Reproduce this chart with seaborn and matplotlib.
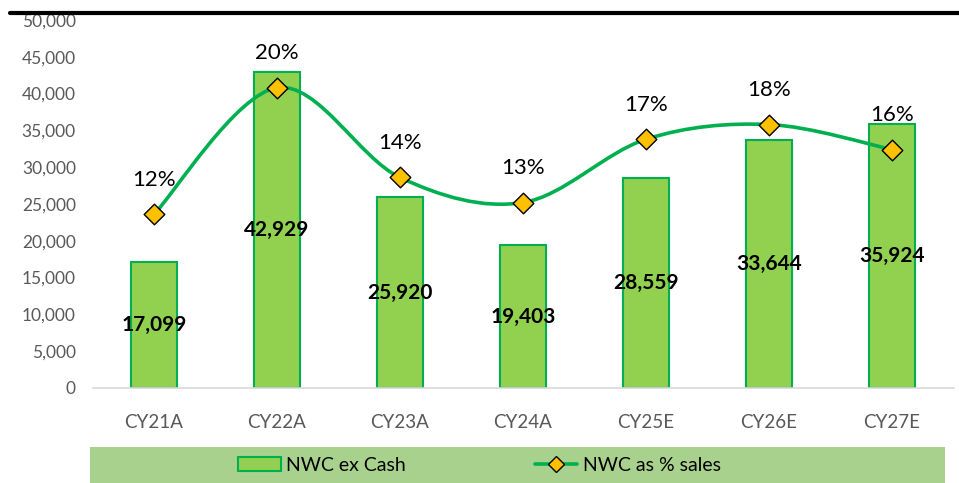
import matplotlib
matplotlib.use("Agg")
import matplotlib.pyplot as plt
import seaborn as sns
import pandas as pd
from matplotlib.path import Path
from matplotlib.patches import PathPatch, Patch, Rectangle
from matplotlib.lines import Line2D

years = ["CY21A", "CY22A", "CY23A", "CY24A", "CY25E", "CY26E", "CY27E"]
nwc_ex_cash = [17099, 42929, 25920, 19403, 28559, 33644, 35924]
nwc_pct = [11.8, 20.4, 14.3, 12.6, 16.9, 17.9, 16.2]
pct_labels = ["12%", "20%", "14%", "13%", "17%", "18%", "16%"]

BAR = "#92D050"
EDGE = "#00B050"
MARKER = "#FFC000"
GREY = "#595959"


def smooth_path(xs, ys):
    # Excel style smoothed line: cubic bezier, control points from neighbours
    n = len(xs)
    verts = [(xs[0], ys[0])]
    codes = [Path.MOVETO]
    for i in range(n - 1):
        p0 = max(i - 1, 0)
        p3 = min(i + 2, n - 1)
        c1 = (xs[i] + (xs[i + 1] - xs[p0]) / 6, ys[i] + (ys[i + 1] - ys[p0]) / 6)
        c2 = (xs[i + 1] - (xs[p3] - xs[i]) / 6, ys[i + 1] - (ys[p3] - ys[i]) / 6)
        verts += [c1, c2, (xs[i + 1], ys[i + 1])]
        codes += [Path.CURVE4] * 3
    return Path(verts, codes)


def main():
    sns.set_style("white")
    plt.rcParams["font.family"] = ["Lato", "DejaVu Sans"]

    df = pd.DataFrame({"year": years, "nwc": nwc_ex_cash, "pct": nwc_pct})

    fig = plt.figure(figsize=(9.59, 4.83), dpi=100)
    ax = fig.add_axes([0.0965, 0.1967, 0.8978, 0.7619])

    sns.barplot(data=df, x="year", y="nwc", color=BAR, width=0.37,
                edgecolor=EDGE, linewidth=1.5, saturation=1, ax=ax)
    ax.set_ylim(0, 50000)
    ax.set_xlim(-0.5, len(years) - 0.5)
    ax.set_yticks(range(0, 50001, 5000))
    ax.set_yticklabels([f"{v:,}" for v in range(0, 50001, 5000)])
    ax.set_xlabel("")
    ax.set_ylabel("")
    ax.tick_params(axis="both", colors=GREY, length=0)
    ax.tick_params(axis="x", pad=19, labelsize=13.5)
    ax.tick_params(axis="y", pad=12, labelsize=12.5)
    for s in ["top", "right", "left"]:
        ax.spines[s].set_visible(False)
    ax.spines["bottom"].set_color("#D9D9D9")
    ax.spines["bottom"].set_linewidth(1.2)

    for i, v in enumerate(nwc_ex_cash):
        ax.text(i, v / 2, f"{v:,}", ha="center", va="center",
                fontsize=15, fontweight="bold", color="black")

    ax2 = ax.twinx()
    ax2.set_ylim(0, 25)
    ax2.axis("off")
    xs = list(range(len(years)))
    ax2.add_patch(PathPatch(smooth_path(xs, nwc_pct), facecolor="none",
                            edgecolor=EDGE, linewidth=2.6, zorder=3))
    sns.scatterplot(x=xs, y=nwc_pct, marker="D", s=110, color=MARKER,
                    edgecolor="black", linewidth=1, zorder=4, ax=ax2, legend=False)
    for x, y, lab in zip(xs, nwc_pct, pct_labels):
        ax2.annotate(lab, (x, y), xytext=(0, 25), textcoords="offset points",
                     ha="center", va="center", fontsize=16, color="black")

    # black rule at top
    fig.add_artist(Line2D([0.0104, 1.0], [0.974, 0.974], color="black",
                          linewidth=3, transform=fig.transFigure))

    # legend band
    fig.add_artist(Rectangle((0.0938, 0.0), 0.8916, 0.0745, facecolor="#A9D18E",
                             edgecolor="none", transform=fig.transFigure, zorder=0))
    handles = [
        Patch(facecolor=BAR, edgecolor=EDGE, linewidth=1.5, label="NWC ex Cash"),
        Line2D([0], [0], color=EDGE, linewidth=2.6, marker="D", markersize=8,
               markerfacecolor=MARKER, markeredgecolor="black", label="NWC as % sales"),
    ]
    fig.legend(handles=handles, loc="center", bbox_to_anchor=(0.5, 0.037),
               ncol=2, frameon=False, fontsize=14, handlelength=2.2,
               handletextpad=0.3, columnspacing=6.6, labelcolor="black")

    fig.savefig("out.png", dpi=100)


if __name__ == "__main__":
    main()
